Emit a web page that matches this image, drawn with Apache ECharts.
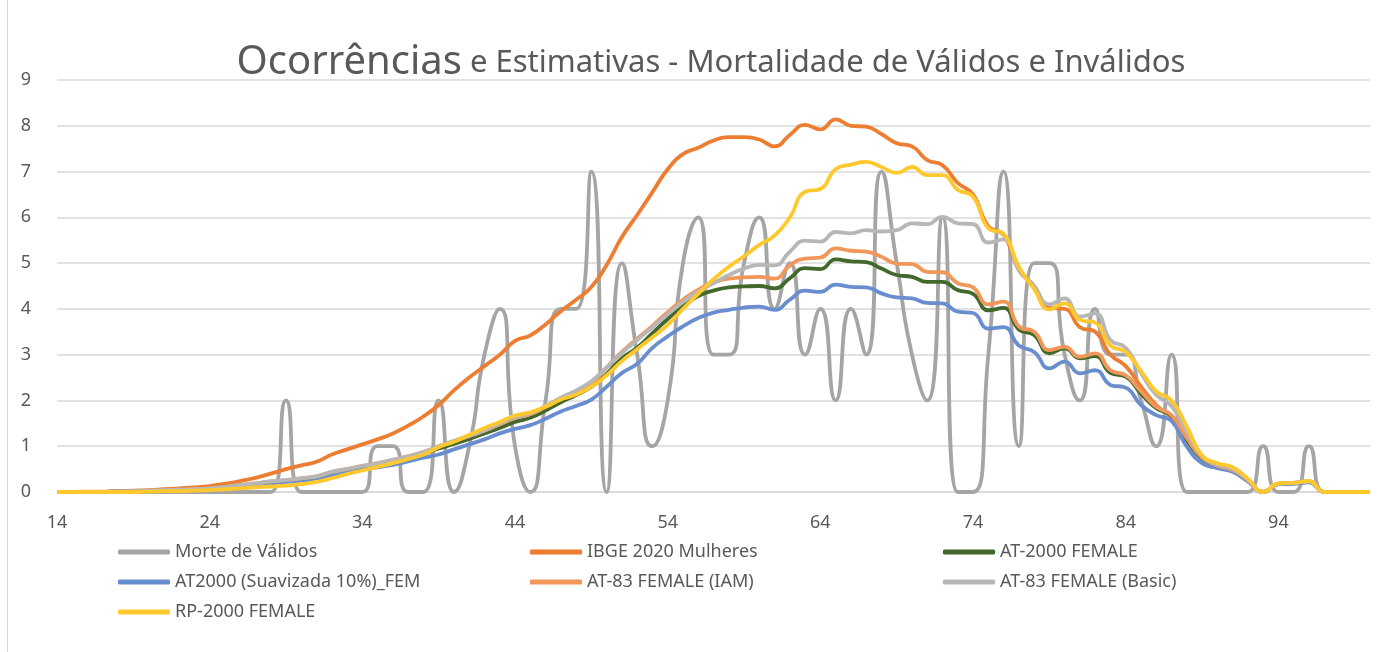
<!DOCTYPE html>
<html>
<head>
<meta charset="utf-8">
<title>Mortalidade de Válidos e Inválidos</title>
<script src="https://cdn.jsdelivr.net/npm/echarts@6/dist/echarts.min.js"></script>
<style>
  html, body { margin: 0; padding: 0; background: #fff; }
  #chart { width: 1394px; height: 652px; }
</style>
</head>
<body>
<div id="chart"></div>
<script>
const ages = [14, 15, 16, 17, 18, 19, 20, 21, 22, 23, 24, 25, 26, 27, 28, 29, 30, 31, 32, 33,
  34, 35, 36, 37, 38, 39, 40, 41, 42, 43, 44, 45, 46, 47, 48, 49, 50, 51, 52, 53,
  54, 55, 56, 57, 58, 59, 60, 61, 62, 63, 64, 65, 66, 67, 68, 69, 70, 71, 72, 73,
  74, 75, 76, 77, 78, 79, 80, 81, 82, 83, 84, 85, 86, 87, 88, 89, 90, 91, 92, 93,
  94, 95, 96, 97, 98, 99, 100];

const yTicks = [0, 1, 2, 3, 4, 5, 6, 7, 8, 9];

const morteValidos = [0, 0, 0, 0, 0, 0, 0, 0, 0, 0, 0, 0, 0, 0, 0, 2, 0, 0, 0, 0,
  0, 1, 1, 0, 0, 2, 0, 1, 3, 4, 1, 0, 2, 4, 4, 7, 0, 5, 3, 1,
  2, 5, 6, 3, 3, 5, 6, 4, 5, 3, 4, 2, 4, 3, 7, 5, 3, 2, 6, 0,
  0, 3, 7, 1, 5, 5, 3, 2, 4, 3, 3, 2, 1, 3, 0, 0, 0, 0, 0, 1,
  0, 0, 1, 0, 0, 0, 0];

const ibge2020 = [0, 0, 0.01, 0.01, 0.02, 0.03, 0.04, 0.06, 0.08, 0.1, 0.13, 0.18, 0.24, 0.31, 0.4, 0.5, 0.58, 0.66, 0.82, 0.93,
  1.04, 1.15, 1.28, 1.45, 1.65, 1.9, 2.22, 2.5, 2.75, 3.0, 3.3, 3.42, 3.66, 3.95, 4.2, 4.48, 4.96, 5.57, 6.05, 6.55,
  7.05, 7.38, 7.52, 7.68, 7.75, 7.75, 7.7, 7.55, 7.8, 8.02, 7.92, 8.14, 8.0, 7.98, 7.82, 7.62, 7.55, 7.25, 7.14, 6.75,
  6.5, 5.8, 5.62, 4.85, 4.5, 4.02, 4.0, 3.6, 3.5, 3.0, 2.75, 2.3, 1.9, 1.62, 1.12, 0.73, 0.57, 0.47, 0.26, 0,
  0.18, 0.19, 0.22, 0, 0, 0, 0];

const at2000 = [0, 0, 0, 0, 0.01, 0.01, 0.02, 0.03, 0.04, 0.05, 0.07, 0.1, 0.13, 0.17, 0.21, 0.24, 0.28, 0.32, 0.41, 0.47,
  0.54, 0.6, 0.66, 0.74, 0.83, 0.95, 1.05, 1.16, 1.28, 1.4, 1.53, 1.62, 1.78, 1.96, 2.12, 2.3, 2.58, 2.92, 3.15, 3.47,
  3.78, 4.06, 4.28, 4.4, 4.47, 4.49, 4.5, 4.45, 4.67, 4.89, 4.87, 5.08, 5.04, 5.02, 4.88, 4.74, 4.7, 4.59, 4.59, 4.41,
  4.33, 3.97, 4.02, 3.55, 3.43, 3.03, 3.14, 2.92, 2.97, 2.6, 2.52, 2.15, 1.83, 1.66, 1.13, 0.73, 0.56, 0.47, 0.26, 0,
  0.18, 0.2, 0.23, 0, 0, 0, 0];

const at2000Suav = [0, 0, 0, 0, 0.01, 0.01, 0.02, 0.03, 0.04, 0.05, 0.06, 0.09, 0.12, 0.15, 0.19, 0.22, 0.25, 0.29, 0.37, 0.42,
  0.49, 0.54, 0.59, 0.67, 0.75, 0.82, 0.93, 1.04, 1.15, 1.28, 1.38, 1.46, 1.6, 1.76, 1.88, 2.02, 2.3, 2.6, 2.8, 3.15,
  3.4, 3.62, 3.8, 3.92, 3.98, 4.03, 4.05, 3.98, 4.2, 4.4, 4.37, 4.53, 4.48, 4.47, 4.34, 4.25, 4.23, 4.13, 4.12, 3.94,
  3.91, 3.57, 3.6, 3.2, 3.06, 2.7, 2.85, 2.59, 2.66, 2.34, 2.28, 1.9, 1.68, 1.55, 0.99, 0.63, 0.52, 0.44, 0.23, 0,
  0.17, 0.18, 0.21, 0, 0, 0, 0];

const at83Iam = [0, 0, 0, 0, 0.01, 0.02, 0.03, 0.04, 0.05, 0.06, 0.08, 0.11, 0.15, 0.19, 0.23, 0.26, 0.3, 0.34, 0.44, 0.5,
  0.57, 0.63, 0.7, 0.78, 0.87, 1.0, 1.11, 1.22, 1.34, 1.48, 1.62, 1.7, 1.86, 2.04, 2.2, 2.38, 2.72, 3.06, 3.35, 3.63,
  3.93, 4.2, 4.42, 4.58, 4.66, 4.69, 4.7, 4.66, 4.95, 5.1, 5.12, 5.32, 5.27, 5.25, 5.14, 4.99, 4.98, 4.81, 4.8, 4.56,
  4.47, 4.1, 4.16, 3.62, 3.5, 3.1, 3.17, 2.95, 3.03, 2.66, 2.55, 2.2, 1.86, 1.68, 1.18, 0.75, 0.58, 0.48, 0.26, 0,
  0.18, 0.2, 0.23, 0, 0, 0, 0];

const at83Basic = [0, 0, 0, 0, 0.01, 0.02, 0.03, 0.04, 0.05, 0.06, 0.08, 0.11, 0.15, 0.19, 0.23, 0.26, 0.3, 0.34, 0.44, 0.5,
  0.57, 0.63, 0.7, 0.78, 0.87, 1.0, 1.12, 1.23, 1.35, 1.5, 1.64, 1.72, 1.88, 2.06, 2.22, 2.42, 2.72, 3.04, 3.32, 3.6,
  3.88, 4.15, 4.38, 4.56, 4.74, 4.88, 4.96, 4.95, 5.25, 5.49, 5.47, 5.68, 5.65, 5.72, 5.69, 5.72, 5.87, 5.85, 6.01, 5.87,
  5.85, 5.45, 5.52, 4.85, 4.5, 4.1, 4.23, 3.83, 3.9, 3.32, 3.15, 2.6, 2.12, 1.88, 1.32, 0.78, 0.6, 0.5, 0.27, 0,
  0.18, 0.2, 0.23, 0, 0, 0, 0];

const rp2000 = [0, 0, 0, 0, 0, 0, 0.01, 0.02, 0.02, 0.03, 0.04, 0.06, 0.08, 0.1, 0.12, 0.14, 0.17, 0.22, 0.3, 0.39,
  0.47, 0.55, 0.63, 0.72, 0.82, 0.98, 1.1, 1.25, 1.4, 1.53, 1.67, 1.74, 1.86, 2.02, 2.13, 2.3, 2.55, 2.86, 3.12, 3.38,
  3.65, 4.0, 4.33, 4.65, 4.92, 5.15, 5.4, 5.6, 6.0, 6.56, 6.62, 7.05, 7.15, 7.21, 7.1, 6.97, 7.1, 6.92, 6.92, 6.6,
  6.45, 5.76, 5.64, 4.92, 4.43, 3.99, 4.12, 3.76, 3.7, 3.2, 3.06, 2.64, 2.2, 2.0, 1.43, 0.8, 0.63, 0.54, 0.29, 0,
  0.19, 0.2, 0.24, 0, 0, 0, 0];

const seriesDefs = [
  { name: 'Morte de Válidos', data: morteValidos, color: '#A5A5A5', smooth: 0.6 },
  { name: 'IBGE 2020 Mulheres', data: ibge2020, color: '#ED7D31', smooth: 0.5 },
  { name: 'AT-2000 FEMALE', data: at2000, color: '#43682B', smooth: 0.5 },
  { name: 'AT2000 (Suavizada 10%)_FEM', data: at2000Suav, color: '#698ED0', smooth: 0.5 },
  { name: 'AT-83 FEMALE (IAM)', data: at83Iam, color: '#F1975A', smooth: 0.5 },
  { name: 'AT-83 FEMALE (Basic)', data: at83Basic, color: '#B7B7B7', smooth: 0.5 },
  { name: 'RP-2000 FEMALE', data: rp2000, color: '#FFC92E', smooth: 0.5 },
];

const font = '"Noto Sans", "Liberation Sans", sans-serif';
const textColor = '#595959';

function legendColumn(left, names) {
  return {
    orient: 'vertical',
    left: left,
    top: 537,
    data: names,
    icon: 'roundRect',
    itemWidth: 52,
    itemHeight: 5,
    itemGap: 10,
    selectedMode: false,
    textStyle: { color: textColor, fontSize: 18, fontFamily: font, lineHeight: 20 },
  };
}

const chart = echarts.init(document.getElementById('chart'));

chart.setOption({
  backgroundColor: '#fff',
  animation: false,
  title: {
    text: '{a|Ocorrências}{b| e Estimativas - Mortalidade de Válidos e Inválidos}',
    left: 706,
    textAlign: 'center',
    top: 38,
    textStyle: {
      fontWeight: 'normal',
      rich: {
        a: { fontSize: 40, color: textColor, fontFamily: font, fontWeight: 'normal' },
        b: { fontSize: 31, color: textColor, fontFamily: font, fontWeight: 'normal' },
      },
    },
  },
  legend: [
    legendColumn(113, ['Morte de Válidos', 'AT2000 (Suavizada 10%)_FEM', 'RP-2000 FEMALE']),
    legendColumn(525, ['IBGE 2020 Mulheres', 'AT-83 FEMALE (IAM)']),
    legendColumn(938, ['AT-2000 FEMALE', 'AT-83 FEMALE (Basic)']),
  ],
  grid: {
    left: 57,
    right: 24,
    top: 80,
    bottom: 160,
  },
  xAxis: {
    type: 'category',
    data: ages,
    boundaryGap: false,
    axisLine: { lineStyle: { color: '#D9D9D9', width: 1.5 } },
    axisTick: { show: false },
    axisLabel: { interval: 9, color: textColor, fontSize: 18, fontFamily: font, margin: 22 },
  },
  yAxis: {
    type: 'value',
    min: yTicks[0],
    max: yTicks[yTicks.length - 1],
    interval: 1,
    axisLine: { show: false },
    axisTick: { show: false },
    axisLabel: { color: textColor, fontSize: 18, fontFamily: font, margin: 26 },
    splitLine: { lineStyle: { color: '#D9D9D9', width: 1.5 } },
  },
  graphic: [
    {
      type: 'line',
      shape: { x1: 7.5, y1: 0, x2: 7.5, y2: 652 },
      style: { stroke: '#D9D9D9', lineWidth: 1 },
    },
  ],
  series: seriesDefs.map((s) => ({
    name: s.name,
    type: 'line',
    data: s.data,
    smooth: s.smooth,
    symbol: 'none',
    lineStyle: { color: s.color, width: 3.8 },
    itemStyle: { color: s.color },
  })),
});
</script>
</body>
</html>
